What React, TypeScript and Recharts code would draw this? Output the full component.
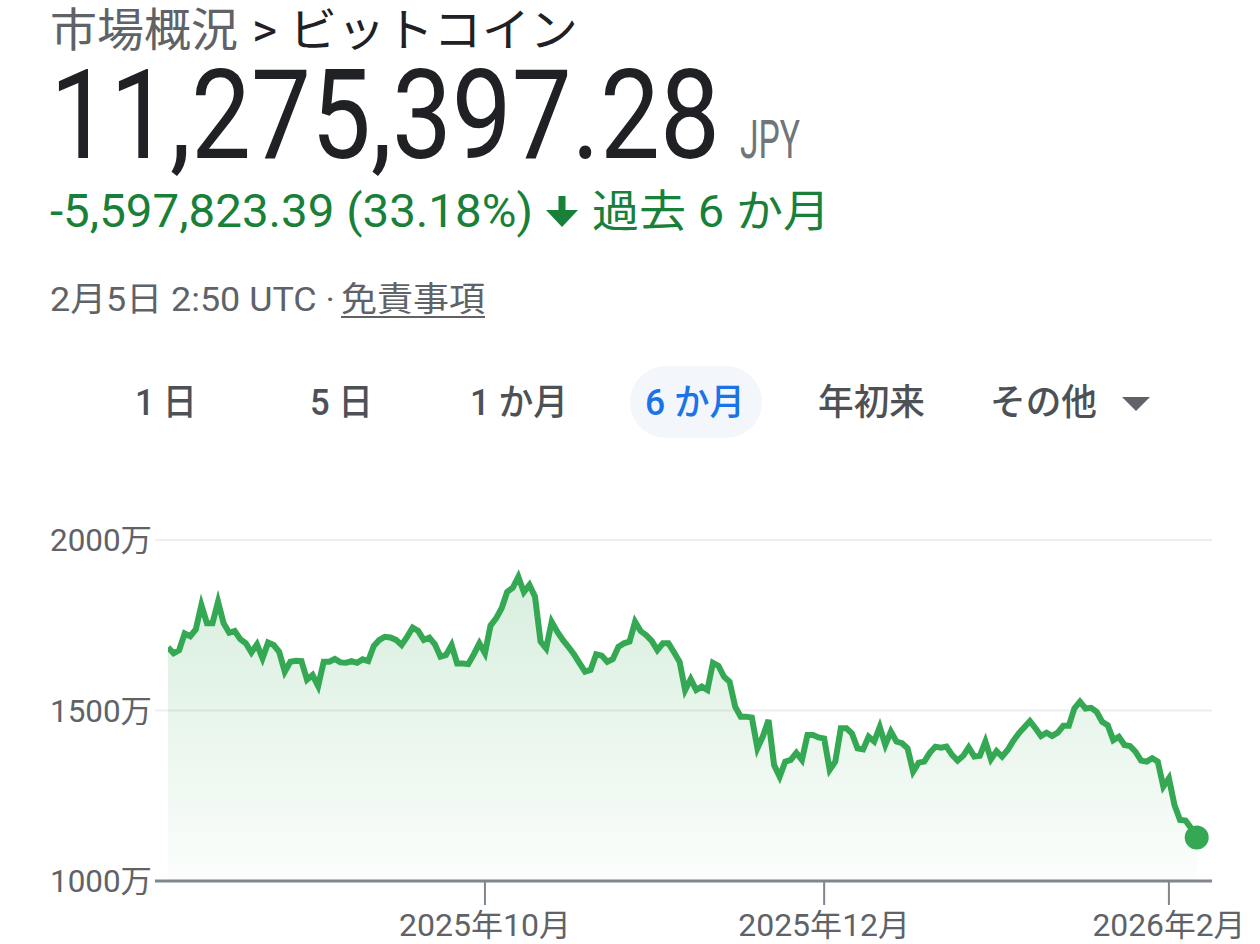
import React from 'react';
import { AreaChart, Area, XAxis, YAxis, CartesianGrid, ReferenceDot } from 'recharts';

// Daily BTC/JPY closes (in 万円), Aug 2025 – Feb 5 2026
const prices = [
  1685, 1668, 1677, 1726, 1718, 1738, 1809, 1756, 1756, 1819,
  1756, 1728, 1733, 1709, 1697, 1670, 1694, 1653, 1699, 1692,
  1672, 1614, 1643, 1646, 1645, 1590, 1604, 1572, 1643, 1643,
  1651, 1641, 1640, 1645, 1640, 1650, 1645, 1689, 1707, 1716,
  1714, 1707, 1692, 1716, 1743, 1733, 1707, 1714, 1694, 1658,
  1663, 1692, 1638, 1638, 1636, 1665, 1697, 1668, 1749, 1770,
  1800, 1848, 1860, 1892, 1847, 1868, 1834, 1702, 1682, 1760,
  1731, 1707, 1687, 1665, 1639, 1614, 1619, 1665, 1661, 1643,
  1651, 1687, 1697, 1702, 1760, 1733, 1721, 1704, 1677, 1697,
  1697, 1671, 1643, 1560, 1592, 1560, 1570, 1560, 1640, 1631,
  1599, 1584, 1511, 1482, 1482, 1479, 1389, 1425, 1472, 1340,
  1306, 1350, 1355, 1376, 1355, 1428, 1428, 1421, 1418, 1326,
  1350, 1448, 1448, 1433, 1389, 1386, 1423, 1409, 1452, 1399,
  1438, 1409, 1404, 1389, 1321, 1347, 1350, 1376, 1394, 1391,
  1394, 1370, 1353, 1367, 1392, 1365, 1367, 1409, 1357, 1381,
  1365, 1384, 1411, 1433, 1451, 1469, 1448, 1425, 1435, 1425,
  1435, 1455, 1455, 1506, 1526, 1506, 1508, 1496, 1467, 1457,
  1413, 1423, 1399, 1396, 1379, 1353, 1350, 1360, 1350, 1277,
  1301, 1223, 1179, 1177, 1155, 1127.5,
];

const xTickIndex = [57, 118, 180];
const xTickLabels = ['2025年10月', '2025年12月', '2026年2月'];
const yTicks = [1000, 1500, 2000];
const tabs = ['1 日', '5 日', '1 か月', '6 か月', '年初来', 'その他'];

const data = prices.map((p, i) => ({ i, p }));
const lastIndex = prices.length - 1;

const FONT = "Roboto, 'Noto Sans CJK JP', sans-serif";
const GREEN = '#34a853';
const AXIS = '#80868b';

const XTick = (props: any) => {
  const { x, y, payload } = props;
  const idx = xTickIndex.indexOf(payload.value);
  const label = idx >= 0 ? xTickLabels[idx] : '';
  const len = label.length === 8 ? 172 : 153;
  return (
    <text x={x} y={y + 31} textAnchor="middle" fill="#5f6368" fontSize={31} fontFamily={FONT}
      textLength={len} lengthAdjust="spacingAndGlyphs">
      {label}
    </text>
  );
};

const YTick = (props: any) => {
  const { x, y, payload } = props;
  const isBase = payload.value === yTicks[0];
  return (
    <g>
      <line x1={x + 3} x2={x + 16} y1={y} y2={y} stroke={isBase ? AXIS : '#eeeeee'} strokeWidth={isBase ? 3 : 2} />
      <text x={x} y={y + 11} textAnchor="end" fill="#5f6368" fontSize={31} fontFamily={FONT}
        textLength={102} lengthAdjust="spacingAndGlyphs">
        {`${payload.value}万`}
      </text>
    </g>
  );
};

const tabPos = [
  { x: 135, w: 62 },
  { x: 310, w: 63 },
  { x: 470, w: 98 },
  { x: 645, w: 100 },
  { x: 818, w: 107 },
  { x: 990, w: 107 },
];

export default function App() {
  return (
    <div style={{ position: 'absolute', left: 0, top: 0, width: 1260, height: 944, background: '#fff', overflow: 'hidden' }}>
      <div style={{ position: 'absolute', left: 0, top: 0 }}>
        <AreaChart width={1260} height={944} data={data} margin={{ top: 540, right: 48, bottom: 0, left: 0 }}>
          <defs>
            <linearGradient id="areaFill" x1="0" y1="0" x2="0" y2="1">
              <stop offset="0%" stopColor={GREEN} stopOpacity={0.32} />
              <stop offset="100%" stopColor={GREEN} stopOpacity={0.03} />
            </linearGradient>
          </defs>
          <CartesianGrid horizontal vertical={false} stroke="#eeeeee" strokeWidth={2} />
          <XAxis type="number" dataKey="i" domain={[0, 187.75]} ticks={xTickIndex} height={63}
            axisLine={{ stroke: AXIS, strokeWidth: 3 }} tickLine={{ stroke: AXIS, strokeWidth: 2 }}
            tickSize={24} tickMargin={0} tick={<XTick />} interval={0} allowDataOverflow />
          <YAxis type="number" domain={[1000, 2000]} ticks={yTicks} width={168} axisLine={false}
            tickLine={false} tickSize={0} tickMargin={16} tick={<YTick />} interval={0} />
          <Area type="linear" dataKey="p" stroke={GREEN} strokeWidth={6} fill="url(#areaFill)"
            isAnimationActive={false} dot={false} activeDot={false} />
          <ReferenceDot x={lastIndex} y={prices[lastIndex]} r={12} fill={GREEN} stroke="none" />
        </AreaChart>
      </div>
      <svg width={1260} height={500} style={{ position: 'absolute', left: 0, top: 0, pointerEvents: 'none' }}>
        <text x={50} y={46} fontSize={46} fontFamily={FONT} fill="#5f6368" textLength={188} lengthAdjust="spacingAndGlyphs">市場概況</text>
        <text x={252} y={46} fontSize={46} fontFamily={FONT} fill="#202124" textLength={326} lengthAdjust="spacingAndGlyphs">&gt; ビットコイン</text>
        <g transform="translate(50,158) scale(0.86,1)">
          <text x={0} y={0} fontSize={124} fontFamily={FONT} fill="#202124" textLength={779} lengthAdjust="spacingAndGlyphs">11,275,397.28</text>
        </g>
        <text x={740} y={158} fontSize={54} fontFamily={FONT} fill="#70757a" textLength={60} lengthAdjust="spacingAndGlyphs">JPY</text>
        <text x={50} y={227} fontSize={47} fontFamily={FONT} fill="#188038" textLength={483} lengthAdjust="spacingAndGlyphs">-5,597,823.39 (33.18%)</text>
        <path d="M558.5 196 H565.5 V210 H578 L562 227 L546 210 H558.5 Z" fill="#188038" />
        <text x={592} y={227} fontSize={44} fontFamily={FONT} fill="#188038" textLength={238} lengthAdjust="spacingAndGlyphs">過去 6 か月</text>
        <text x={50} y={311} fontSize={34} fontFamily={FONT} fill="#5f6368" textLength={285} lengthAdjust="spacingAndGlyphs">2月5日 2:50 UTC ·</text>
        <text x={341} y={311} fontSize={34} fontFamily={FONT} fill="#5f6368" textLength={144} lengthAdjust="spacingAndGlyphs">免責事項</text>
        <line x1={341} x2={485} y1={317} y2={317} stroke="#5f6368" strokeWidth={2} />
        <rect x={630} y={366} width={132} height={72} rx={36} fill="#f3f6fb" />
        {tabs.map((t, k) => (
          <text key={t} x={tabPos[k].x} y={415} fontSize={36} fontWeight={500} fontFamily={FONT}
            fill={k === 3 ? '#1a73e8' : '#4d5156'} textLength={tabPos[k].w} lengthAdjust="spacingAndGlyphs">{t}</text>
        ))}
        <path d="M1122 397 L1150 397 L1136 411 Z" fill="#5f6368" />
      </svg>
    </div>
  );
}
